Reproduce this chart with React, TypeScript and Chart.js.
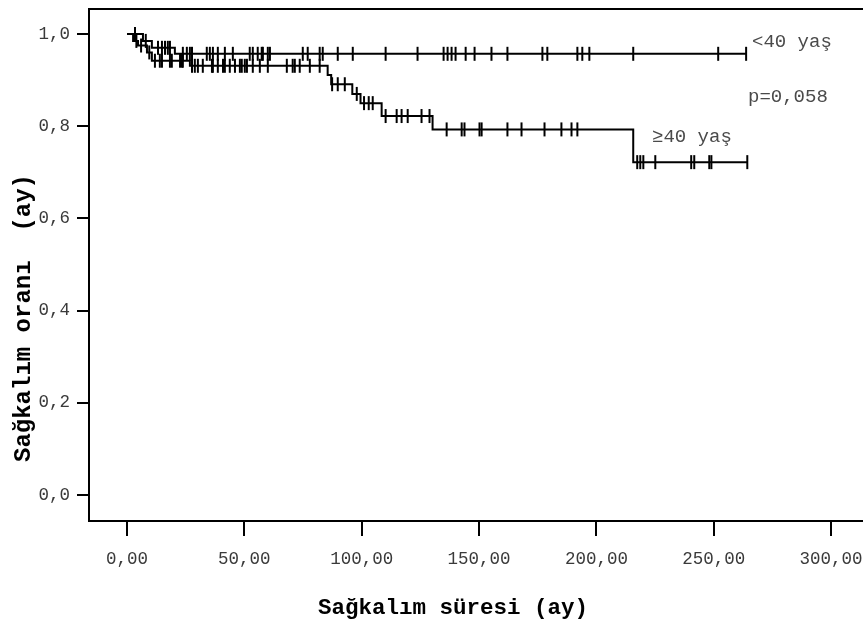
import React, { useEffect, useRef } from "react";
import { Chart, registerables } from "chart.js";

Chart.register(...registerables);

// ---- Axis ticks / texts ----
const xTicks = [0, 50, 100, 150, 200, 250, 300];
const yTicks = [0, 0.2, 0.4, 0.6, 0.8, 1.0];
const groupLabels = ["<40 yaş", "≥40 yaş"];
const pValueText = "p=0,058";
const xTitle = "Sağkalım süresi (ay)";
const yTitle = "Sağkalım oranı  (ay)";

// ---- <40 yaş : step times and survival ----
const timesYoung = [0, 6.8, 10.6, 20.4, 263.8];
const survYoung = [1.0, 0.985, 0.97, 0.957, 0.957];
const censorYoung = [
  3.4, 8.0, 13.2, 14.9, 16.2, 17.4, 18.3, 23.8, 25.5, 26.8, 27.7, 34.0, 35.3,
  36.6, 38.7, 41.7, 45.1, 52.3, 53.6, 55.7, 57.4, 57.9, 60.0, 60.9, 74.9, 77.0,
  82.1, 83.4, 89.8, 96.2, 110.2, 123.8, 134.9, 136.6, 138.3, 140.0, 144.3,
  148.1, 155.3, 162.1, 177.0, 179.1, 191.9, 194.0, 197.0, 215.7, 251.9, 263.8,
];

// ---- ≥40 yaş : step times and survival ----
const timesOld = [
  0, 2.6, 4.7, 8.5, 10.6, 26.8, 85.5, 87.0, 96.0, 99.5, 108.5, 130.2, 215.7,
  264.3,
];
const survOld = [
  1.0, 0.985, 0.975, 0.96, 0.942, 0.931, 0.911, 0.891, 0.87, 0.85, 0.822,
  0.793, 0.722, 0.722,
];
const censorOld = [
  4.0, 6.0, 9.5, 11.9, 14.0, 14.9, 18.3, 19.1, 22.6, 23.4, 23.8, 27.7, 28.9,
  30.2, 32.3, 36.2, 36.6, 38.7, 40.9, 41.7, 43.8, 46.0, 48.1, 48.9, 50.2, 51.1,
  53.6, 56.6, 60.0, 68.1, 70.6, 71.5, 73.6, 77.9, 82.1, 87.4, 89.8, 92.8, 97.9,
  101.0, 103.0, 104.7, 110.2, 114.9, 117.0, 119.6, 125.5, 128.9, 136.2, 142.6,
  143.8, 150.2, 151.1, 162.1, 168.1, 177.9, 185.1, 189.4, 191.9, 217.4, 218.7,
  220.0, 225.1, 240.4, 241.7, 248.1, 249.0, 264.3,
];

const MONO = '"Liberation Mono", "DejaVu Sans Mono", monospace';

function stepValue(times: number[], surv: number[], t: number): number {
  let v = surv[0];
  for (let i = 0; i < times.length; i++) {
    if (times[i] <= t) v = surv[i];
  }
  return v;
}

const decorPlugin = {
  id: "decor",
  afterDraw(chart: any) {
    const { ctx, chartArea } = chart;
    ctx.save();
    // top frame line
    ctx.strokeStyle = "#000";
    ctx.lineWidth = 2;
    ctx.beginPath();
    ctx.moveTo(chartArea.left - 1, chartArea.top);
    ctx.lineTo(chart.width, chartArea.top);
    ctx.stroke();

    // annotations
    ctx.fillStyle = "#4a4a4a";
    ctx.font = `19px ${MONO}`;
    ctx.textBaseline = "middle";
    ctx.textAlign = "left";
    ctx.fillText(groupLabels[0], 752, 42);
    ctx.fillText(pValueText, 748, 97);
    ctx.fillText(groupLabels[1], 652, 137);

    // axis titles
    ctx.fillStyle = "#000";
    ctx.textAlign = "center";
    ctx.font = `bold 22.5px ${MONO}`;
    ctx.fillText(xTitle, 453, 608);
    ctx.font = `bold 24px ${MONO}`;
    ctx.translate(24, 318);
    ctx.rotate(-Math.PI / 2);
    ctx.fillText(yTitle, 0, 0);
    ctx.restore();
  },
};

export default function App() {
  const canvasRef = useRef<HTMLCanvasElement | null>(null);

  useEffect(() => {
    const canvas = canvasRef.current;
    if (!canvas) return;

    const lineData = (times: number[], surv: number[]) =>
      times.map((t, i) => ({ x: t, y: surv[i] }));
    const censorData = (cs: number[], times: number[], surv: number[]) =>
      cs.map((t) => ({ x: t, y: stepValue(times, surv, t) }));

    const censorStyle = {
      showLine: false,
      pointStyle: "line",
      pointRotation: 90,
      pointRadius: 7,
      pointHoverRadius: 7,
      pointBorderWidth: 2,
      pointBorderColor: "#000",
      pointBackgroundColor: "#000",
      borderColor: "#000",
    };

    const chart = new Chart(canvas, {
      type: "line",
      data: {
        datasets: [
          {
            label: groupLabels[0],
            data: lineData(timesYoung, survYoung),
            stepped: "before",
            borderColor: "#000",
            borderWidth: 2,
            pointRadius: 0,
            fill: false,
          },
          {
            label: groupLabels[1],
            data: lineData(timesOld, survOld),
            stepped: "before",
            borderColor: "#000",
            borderWidth: 2,
            pointRadius: 0,
            fill: false,
          },
          {
            label: groupLabels[0] + " censor",
            data: censorData(censorYoung, timesYoung, survYoung),
            ...censorStyle,
          } as any,
          {
            label: groupLabels[1] + " censor",
            data: censorData(censorOld, timesOld, survOld),
            ...censorStyle,
          } as any,
        ],
      },
      options: {
        responsive: false,
        animation: false,
        devicePixelRatio: 1,
        layout: {
          autoPadding: false,
          padding: { top: 9, left: 0, right: 0, bottom: 0 },
        },
        plugins: {
          legend: { display: false },
          tooltip: { enabled: false },
        },
        events: [],
        scales: {
          x: {
            type: "linear",
            min: -16.19,
            max: 313.6,
            afterBuildTicks: (s: any) => {
              s.ticks = xTicks.map((v) => ({ value: v }));
            },
            afterFit: (s: any) => {
              s.height = 105;
              s.paddingLeft = 0;
              s.paddingRight = 0;
            },
            ticks: {
              autoSkip: false,
              maxRotation: 0,
              padding: 13,
              color: "#3a3a3a",
              font: { family: MONO, size: 17.5 },
              callback: (v: any) => Number(v).toFixed(2).replace(".", ","),
            },
            grid: {
              drawOnChartArea: false,
              drawTicks: true,
              tickLength: 15,
              color: "#000",
              lineWidth: 2,
            },
            border: { display: true, color: "#000", width: 2 },
          },
          y: {
            type: "linear",
            min: -0.0564,
            max: 1.0542,
            afterBuildTicks: (s: any) => {
              s.ticks = yTicks.map((v) => ({ value: v }));
            },
            afterFit: (s: any) => {
              s.width = 89;
              s.paddingTop = 0;
              s.paddingBottom = 0;
            },
            ticks: {
              autoSkip: false,
              padding: 7,
              color: "#3a3a3a",
              font: { family: MONO, size: 17.5 },
              callback: (v: any) => Number(v).toFixed(1).replace(".", ","),
            },
            grid: {
              drawOnChartArea: false,
              drawTicks: true,
              tickLength: 12,
              color: "#000",
              lineWidth: 2,
            },
            border: { display: true, color: "#000", width: 2 },
          },
        },
      } as any,
      plugins: [decorPlugin],
    });

    return () => chart.destroy();
  }, []);

  return (
    <div
      style={{
        position: "fixed",
        left: 0,
        top: 0,
        width: 863,
        height: 626,
        background: "#fff",
      }}
    >
      <canvas
        ref={canvasRef}
        width={863}
        height={626}
        style={{ display: "block", width: 863, height: 626 }}
      />
    </div>
  );
}
